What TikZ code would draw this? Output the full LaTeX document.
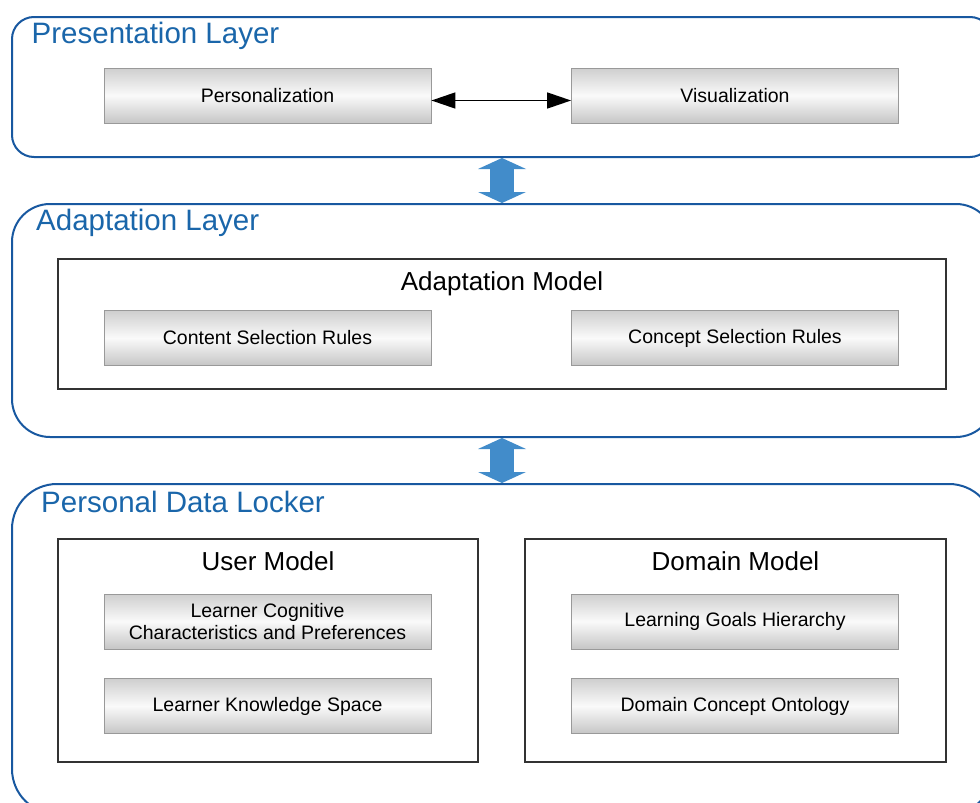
\documentclass[tikz,border=0pt]{standalone}
\usepackage{fontspec}
\setmainfont{Liberation Sans}
\usetikzlibrary{arrows.meta}
\definecolor{layerblue}{RGB}{24,88,160}
\definecolor{titleblue}{RGB}{26,102,170}
\definecolor{pipeblue}{RGB}{66,140,202}
\begin{document}
\begin{tikzpicture}[x=1pt,y=-1pt,
  layer/.style={draw=layerblue,line width=2pt,anchor=north west,inner sep=0pt},
  layertitle/.style={anchor=base west,inner sep=0pt,text=titleblue,font=\fontsize{29.5}{34}\selectfont},
  model/.style={draw=black!80,line width=1.5pt,inner sep=0pt},
  modeltitle/.style={anchor=base,font=\fontsize{26}{30}\selectfont},
  part/.style={draw=gray!80,line width=0.8pt,minimum width=327pt,minimum height=55pt,
    top color=gray!38,bottom color=gray!45,middle color=gray!4,align=center,
    font=\fontsize{19.5}{22}\selectfont},
  pipe/.style={pipeblue,line width=24pt,
    {Triangle[length=11pt,width=48pt,line width=0pt]}-{Triangle[length=11pt,width=48pt,line width=0pt]}},
  link/.style={line width=1.5pt,{Triangle[length=24pt,width=16pt]}-{Triangle[length=24pt,width=16pt]}}]
\useasboundingbox (0,0) rectangle (980,803);
\clip (0,0) rectangle (980,803);
\node[layer,rounded corners=22pt,minimum width=980pt,minimum height=140pt] (pres) at (11,16) {};
\node[layer,rounded corners=38pt,minimum width=982pt,minimum height=233pt] (adapt) at (11,203) {};
\node[layer,rounded corners=45pt,minimum width=982pt,minimum height=330pt] (pdl) at (11,483) {};
\node[layertitle] (prest) at (31.5,43) {Presentation Layer};
\node[layertitle] (adaptt) at (36,230) {Adaptation Layer};
\node[layertitle] (pdlt) at (41,512) {Personal Data Locker};
\node[model,minimum width=888pt,minimum height=130pt] (am) at (502,324) {};
\node[model,minimum width=420pt,minimum height=223pt] (um) at (268,650.5) {};
\node[model,minimum width=421pt,minimum height=223pt] (dm) at (735.5,650.5) {};
\node[modeltitle] (amt) at (502,290) {Adaptation Model};
\node[modeltitle] (umt) at (268,570.5) {User Model};
\node[modeltitle] (dmt) at (735.5,570.5) {Domain Model};
\node[part] (pers) at (267.5,95.5) {Personalization};
\node[part] (vis) at (735,95.5) {Visualization};
\node[part] (csr) at (267.5,338) {Content Selection Rules};
\node[part] (cosr) at (735,338) {Concept Selection Rules};
\node[part] (lcc) at (267.5,621.5) {Learner Cognitive\\Characteristics and Preferences};
\node[part] (lks) at (267.5,706) {Learner Knowledge Space};
\node[part] (lgh) at (735,621.5) {Learning Goals Hierarchy};
\node[part] (dco) at (735,706) {Domain Concept Ontology};
\draw[link] ([yshift=-5pt]pers.east) -- ([yshift=-5pt]vis.west);
\draw[pipe] (pres.south -| am.north) -- (adapt.north -| am.north);
\draw[pipe] (adapt.south -| am.north) -- (pdl.north -| am.north);
\end{tikzpicture}
\end{document}
